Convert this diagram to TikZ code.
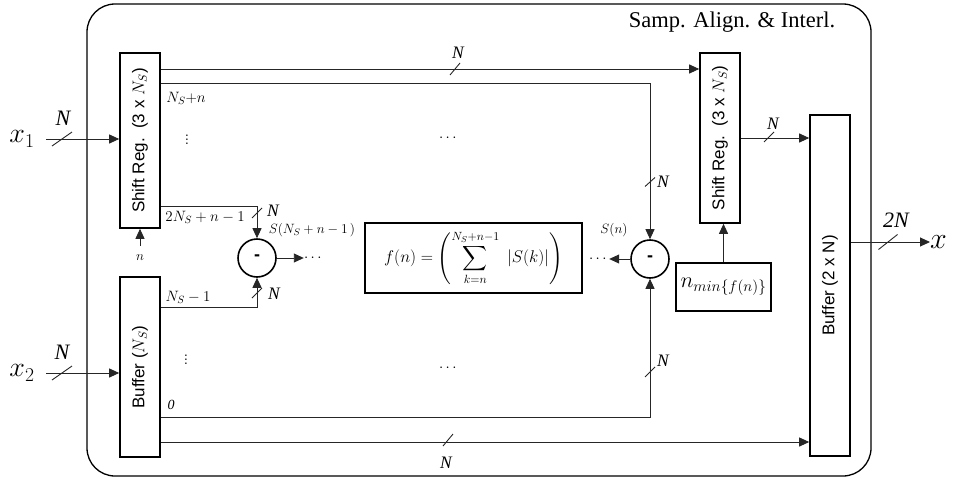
\documentclass[tikz,border=0pt]{standalone}
\usepackage{fix-cm}
\usepackage{amsmath}
\usepackage{fontspec}
\newfontfamily\timesf{Liberation Serif}
\newfontfamily\arialf{Liberation Sans}
\usetikzlibrary{arrows.meta,calc}
\tikzset{
  blk/.style={draw, line width=1.6pt, inner sep=0pt},
  conn/.style={draw=black!85, line width=0.9pt},
  arr/.style={conn, -{Triangle[length=10pt,width=9pt]}},
  subnode/.style={circle, draw, line width=1.6pt, minimum size=38pt, inner sep=0pt,
    font=\arialf\bfseries\fontsize{18}{18}\selectfont},
  lbl/.style={font=\fontsize{15}{15}\selectfont, inner sep=0pt},
  vdlbl/.style={font=\fontsize{19}{19}\selectfont, inner sep=0pt},
  smalllbl/.style={font=\fontsize{13.5}{13.5}\selectfont, inner sep=0pt},
  nlab/.style={font=\timesf\itshape\fontsize{17.5}{17.5}\selectfont, inner sep=0pt},
  nlabbig/.style={font=\timesf\itshape\fontsize{22}{22}\selectfont, inner sep=0pt},
  boxtext/.style={rotate=90, font=\arialf\fontsize{17}{17}\selectfont, inner sep=0pt},
  slashmark/.style={draw=black!85, line width=0.9pt},
}
\newcommand\slashmk[3]{\draw[slashmark] ($(#1)+(-#2,#3)$) -- ($(#1)+(#2,-#3)$);}
\begin{document}
\begin{tikzpicture}[x=1pt,y=-1pt]
\useasboundingbox (0,0) rectangle (957,479);
% frame
\node[draw, line width=1.3pt, rounded corners=28pt, minimum width=784, minimum height=472, inner sep=0pt] (frame) at (479,240) {};
\node[font=\timesf\fontsize{22.5}{22.5}\selectfont, inner sep=0pt] (title) at (732,22) {Samp. Align. \& Interl.};
% blocks
\node[blk, minimum width=40, minimum height=175] (sr1) at (140,140.5) {};
\node[boxtext] (sr1t) at (sr1) {Shift Reg.\ \ (3 x $N_S$)};
\node[blk, minimum width=40, minimum height=180] (buf1) at (140,367) {};
\node[boxtext] (buf1t) at (buf1) {Buffer ($N_S$)};
\node[blk, minimum width=40, minimum height=170] (sr2) at (720,138) {};
\node[boxtext] (sr2t) at (sr2) {Shift Reg.\ \ (3 x $N_S$)};
\node[blk, minimum width=40, minimum height=341] (buf2) at (830,285.5) {};
\node[boxtext] (buf2t) at (buf2) {Buffer (2 x N)};
\node[blk, minimum width=95, minimum height=48, font=\fontsize{22}{22}\selectfont] (nmin) at (723.5,287) {$n_{min\{f(n)\}}$};
\node[blk, line width=2pt, minimum width=217, minimum height=70, inner sep=0pt, font=\fontsize{17}{17}\selectfont] (fbox) at (473.5,258)
  {$\displaystyle f(n)=\left(\sum_{k=n}^{N_S+n-1}\ |S(k)|\right)$};
\node[subnode] (sub1) at (257,258) {-};
\node[subnode] (sub2) at (650,259) {-};
% helper coordinates
\coordinate (r69) at (0,69);
\coordinate (r83) at (0,83);
\coordinate (r206) at (0,206);
\coordinate (r307) at (0,307);
\coordinate (r417) at (0,417);
\coordinate (r442) at (0,442);
\coordinate (r138) at (0,138);
\coordinate (r242) at (0,242);
\coordinate (x1s) at (46,139);
\coordinate (x2s) at (46,373);
\coordinate (ns) at (140,246);
% labels
\node[font=\fontsize{28}{28}\selectfont, inner sep=0pt] (x1) at (22,139) {$x_1$};
\node[font=\fontsize{28}{28}\selectfont, inner sep=0pt] (x2) at (22,373) {$x_2$};
\node[font=\fontsize{30}{30}\selectfont, inner sep=0pt, anchor=west] (xout) at (930,242) {$x$};
\node[lbl] (d1) at (314,258) {$\cdots$};
\node[lbl] (d2) at (599,259) {$\cdots$};
\node[lbl] (d3) at (449,138) {$\cdots$};
\node[lbl] (d4) at (449,368) {$\cdots$};
\node[vdlbl] (v1) at (187,137) {$\vdots$};
\node[vdlbl] (v2) at (186,357) {$\vdots$};
\node[lbl] (l1) at (186,98) {$N_S{+}n$};
\node[lbl] (l2) at (205,217) {$2N_S+n-1$};
\node[lbl] (l3) at (188,297) {$N_S-1$};
\node[font=\timesf\itshape\fontsize{14}{14}\selectfont, inner sep=0pt] (l4) at (171,405) {0};
\node[smalllbl] (l5) at (312,230) {$S(N_S+n-1\,)$};
\node[smalllbl] (l6) at (614,230) {$S(n)$};
\node[smalllbl] (l7) at (140,258) {$n$};
% connectors
\draw[arr] (sr1.east |- r69) -- (sr2.west |- r69);
\draw[arr] (sr1.east |- r83) -| (sub2.north);
\draw[arr] (sr1.east |- r206) -| (sub1.north);
\draw[arr] (buf1.east |- r307) -| (sub1.south);
\draw[arr] (buf1.east |- r417) -| (sub2.south);
\draw[arr] (buf1.east |- r442) -- (buf2.west |- r442);
\draw[arr] (sub1.east) -- (d1.west);
\draw[arr] (sub2.west) -- (d2.east);
\draw[arr] (nmin.north) -- (nmin.north |- sr2.south);
\draw[arr] (sr2.east |- r138) -- (buf2.west |- r138);
\draw[arr] (buf2.east |- r242) -- (xout.west);
\draw[arr] (x1s) -- (sr1.west |- x1s);
\draw[arr] (x2s) -- (buf1.west |- x2s);
\draw[arr] (ns) -- (sr1.south);
% bus slashes
\slashmk{455,69}{5}{6}
\slashmk{650,182}{5}{4.5}
\slashmk{257,213}{5}{5}
\slashmk{257,293}{5}{5}
\slashmk{650,372}{5}{5}
\slashmk{448,440}{5}{6}
\slashmk{769,137}{5}{5}
\slashmk{888,242}{9.5}{7.5}
\slashmk{62,139}{10}{7}
\slashmk{62,373}{10}{7}
% bus widths
\node[nlab] (nA) at (458,53) {N};
\node[nlab] (nB) at (663,182) {N};
\node[nlab] (nC) at (273,211) {N};
\node[nlab] (nD) at (274,294) {N};
\node[nlab] (nE) at (663,361) {N};
\node[nlab] (nF) at (446,463) {N};
\node[nlab] (nG) at (773,124) {N};
\node[nlabbig] (nH) at (896,220) {2N};
\node[nlabbig] (nI) at (63,118) {N};
\node[nlabbig] (nJ) at (62,352) {N};
\end{tikzpicture}
\end{document}
